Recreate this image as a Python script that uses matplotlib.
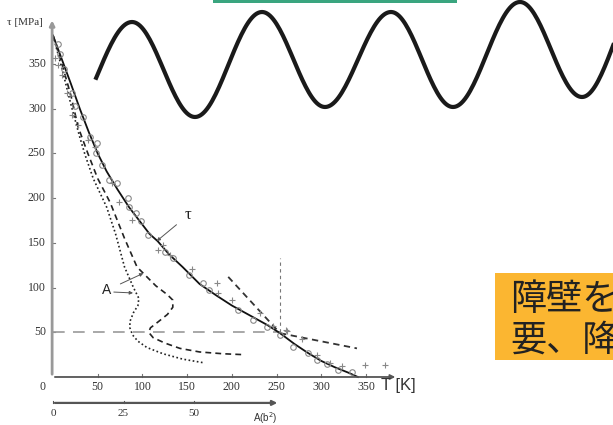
import numpy as np
import matplotlib
matplotlib.use("Agg")
import matplotlib.pyplot as plt
from matplotlib.patches import Rectangle

# --- data (T in K, tau in MPa) ---
tau_T = [0, 10, 20, 30, 40, 50, 60, 72, 85, 98, 108, 117, 130, 145, 164, 183,
         200, 220, 240, 254, 270, 285, 300, 315, 330, 341]
tau_v = [382, 355, 328, 300, 274, 250, 230, 210, 190, 173, 160, 152, 137, 123, 104, 91,
         80, 69, 58, 49, 37, 27, 18, 11, 5, 0]

# dashed "A" curve
a1_T = [0, 10, 20, 28, 39, 50, 64, 80, 94, 101, 115, 128, 134, 134, 128, 118,
        109, 107, 112, 125, 142, 164, 190, 213]
a1_v = [382, 350, 315, 280, 250, 222, 195, 155, 123, 116, 102, 92, 86, 78, 70, 62,
        55, 50, 44, 38, 32, 28, 26, 25]

# dotted "A" curve
a2_T = [0, 10, 20, 30, 36, 45, 60, 70, 80, 90, 96, 95, 90, 86, 86, 89, 95, 105,
        123, 145, 168]
a2_v = [382, 345, 305, 268, 248, 222, 190, 160, 123, 100, 88, 80, 72, 62, 55, 47,
        40, 33, 26, 20, 16]

# scattered measurements
circ_T = [6, 8, 12, 21, 25, 34, 41, 49, 48, 55, 63, 72, 84, 85, 93, 98, 106, 125,
          134, 152, 168, 175, 207, 224, 239, 254, 269, 285, 295, 306, 319, 334]
circ_v = [372, 361, 345, 318, 303, 291, 268, 262, 250, 237, 220, 217, 200, 190, 183,
          175, 159, 140, 133, 114, 105, 97, 75, 64, 56, 47, 34, 27, 19, 15, 8, 6]
plus_T = [2, 6, 10, 16, 21, 28, 39, 47, 66, 74, 88, 117, 123, 131, 155, 183, 185,
          200, 232, 246, 261, 262, 279, 295, 310, 323, 349, 371]
plus_v = [357, 349, 338, 318, 293, 282, 265, 257, 217, 196, 176, 142, 148, 136, 121,
          105, 94, 86, 72, 57, 53, 51, 42, 25, 16, 12, 13, 13]

# straight dashed construction lines
steep_T, steep_v = [196, 254], [112, 49]
flat_T, flat_v = [254, 340], [49, 32]

x_ticks = [50, 100, 150, 200, 250, 300, 350]
y_ticks = [50, 100, 150, 200, 250, 300, 350]
a_ticks = [0, 25, 50]
a_scale = 3.155  # K per A(b^2) unit on the lower scale

# decorative wave (extrema, pixel coords)
wave_x = [64, 132, 195, 262, 325, 391, 453, 520, 582, 645]
wave_y = [125, 22, 117, 12, 107, 12, 107, 2, 97, -8]

fig = plt.figure(figsize=(6.13, 4.25), dpi=100)
ax = fig.add_axes([0, 0, 1, 1])
ax.set_xlim(-59.3, 626.4)
ax.set_ylim(-53.7, 421.7)
ax.axis("off")

serif = "Liberation Serif"

# axes with arrows
ax.annotate("", xy=(-1, 402), xytext=(-1, 0),
            arrowprops=dict(arrowstyle="-|>", color="#999999", lw=2, mutation_scale=7))
ax.annotate("", xy=(386, 0), xytext=(-1, 0),
            arrowprops=dict(arrowstyle="-|>", color="#555555", lw=1.3, mutation_scale=7))
for v in y_ticks:
    ax.plot([-1, 2.5], [v, v], color="#777777", lw=0.8)
    ax.text(-8, v, str(v), ha="right", va="center", fontsize=8.5, family=serif, color="#333")
for t in x_ticks:
    ax.plot([t, t], [0, 3], color="#777777", lw=0.8)
    ax.text(t, -11, str(t), ha="center", va="center", fontsize=8.5, family=serif, color="#333")
ax.text(-12, -11, "0", ha="center", va="center", fontsize=8.5, family=serif, color="#333")
ax.text(-31, 397, "τ [MPa]", ha="center", va="center", fontsize=8, family=serif, color="#333")
ax.text(367, -9, "T [K]", ha="left", va="center", fontsize=12,
        family="Liberation Sans", color="#333")

# lower A(b^2) scale
ay = -29
ax.annotate("", xy=(254, ay), xytext=(-1, ay),
            arrowprops=dict(arrowstyle="-|>", color="#555555", lw=1.6, mutation_scale=7))
for a in a_ticks:
    ta = a * a_scale
    ax.plot([ta, ta], [ay, ay + 2.5], color="#555555", lw=0.8)
    ax.text(ta, -41, str(a), ha="center", va="center", fontsize=8, family=serif, color="#333")
ax.text(237, -46, "A(b$^2$)", ha="center", va="center", fontsize=7,
        family="Liberation Sans", color="#333")

# reference lines
ax.plot([0, 254], [50, 50], color="#999999", lw=1.2, dashes=(7, 5))
ax.plot([254, 254], [50, 133], color="#777777", lw=0.8, dashes=(3, 3))
ax.plot(steep_T, steep_v, color="#333333", lw=1.3, dashes=(3.5, 2.5))
ax.plot(flat_T, flat_v, color="#333333", lw=1.3, dashes=(3.5, 2.5))

# curves
ax.plot(tau_T, tau_v, color="#111111", lw=1.3)
ax.plot(a1_T, a1_v, color="#222222", lw=1.2, dashes=(3.5, 2.5))
ax.plot(a2_T, a2_v, color="#222222", lw=1.2, dashes=(1, 1.5))

ax.plot(circ_T, circ_v, "o", ms=4, mfc="none", mec="#888888", mew=0.8)
ax.plot(plus_T, plus_v, "+", ms=5, color="#888888", mew=0.8)

# annotations
ax.annotate("τ", xy=(116, 152), xytext=(151, 181), fontsize=12, family=serif,
            ha="center", va="center", color="#222",
            arrowprops=dict(arrowstyle="-|>", color="#555", lw=0.7, mutation_scale=5,
                            shrinkA=5, shrinkB=0))
ax.annotate("A", xy=(101, 116), xytext=(60, 97), fontsize=10, family="Liberation Sans",
            ha="center", va="center", color="#222",
            arrowprops=dict(arrowstyle="-|>", color="#555", lw=0.7, mutation_scale=5,
                            shrinkA=5, shrinkB=0))
ax.annotate("", xy=(89.5, 94), xytext=(68, 95),
            arrowprops=dict(arrowstyle="-|>", color="#555", lw=0.7, mutation_scale=5,
                            shrinkA=0, shrinkB=0))

# overlay in pixel coords: wave, boxes
ov = fig.add_axes([0, 0, 1, 1])
ov.set_xlim(0, 613)
ov.set_ylim(425, 0)
ov.axis("off")
ov.patch.set_alpha(0)

wx, wy = [], []
for i in range(len(wave_x) - 1):
    s = np.linspace(0, 1, 40)
    wx.extend(wave_x[i] + (wave_x[i + 1] - wave_x[i]) * s)
    wy.extend(wave_y[i] + (wave_y[i + 1] - wave_y[i]) * (1 - np.cos(np.pi * s)) / 2)
wx, wy = np.array(wx), np.array(wy)
keep = wx >= 94
ov.plot(wx[keep], wy[keep], color="#1a1a1a", lw=3, solid_capstyle="butt")

ov.add_patch(Rectangle((213, -2), 244, 5, color="#3aa57f", lw=0))
ov.add_patch(Rectangle((495, 273), 130, 87, color="#fbb631", lw=0))
ov.text(510, 300, "障壁を", fontsize=26, family="Noto Sans CJK JP", color="#222222",
        va="center", ha="left")
ov.text(510, 341, "要、降", fontsize=26, family="Noto Sans CJK JP", color="#222222",
        va="center", ha="left")

fig.savefig("out.png", dpi=100)
